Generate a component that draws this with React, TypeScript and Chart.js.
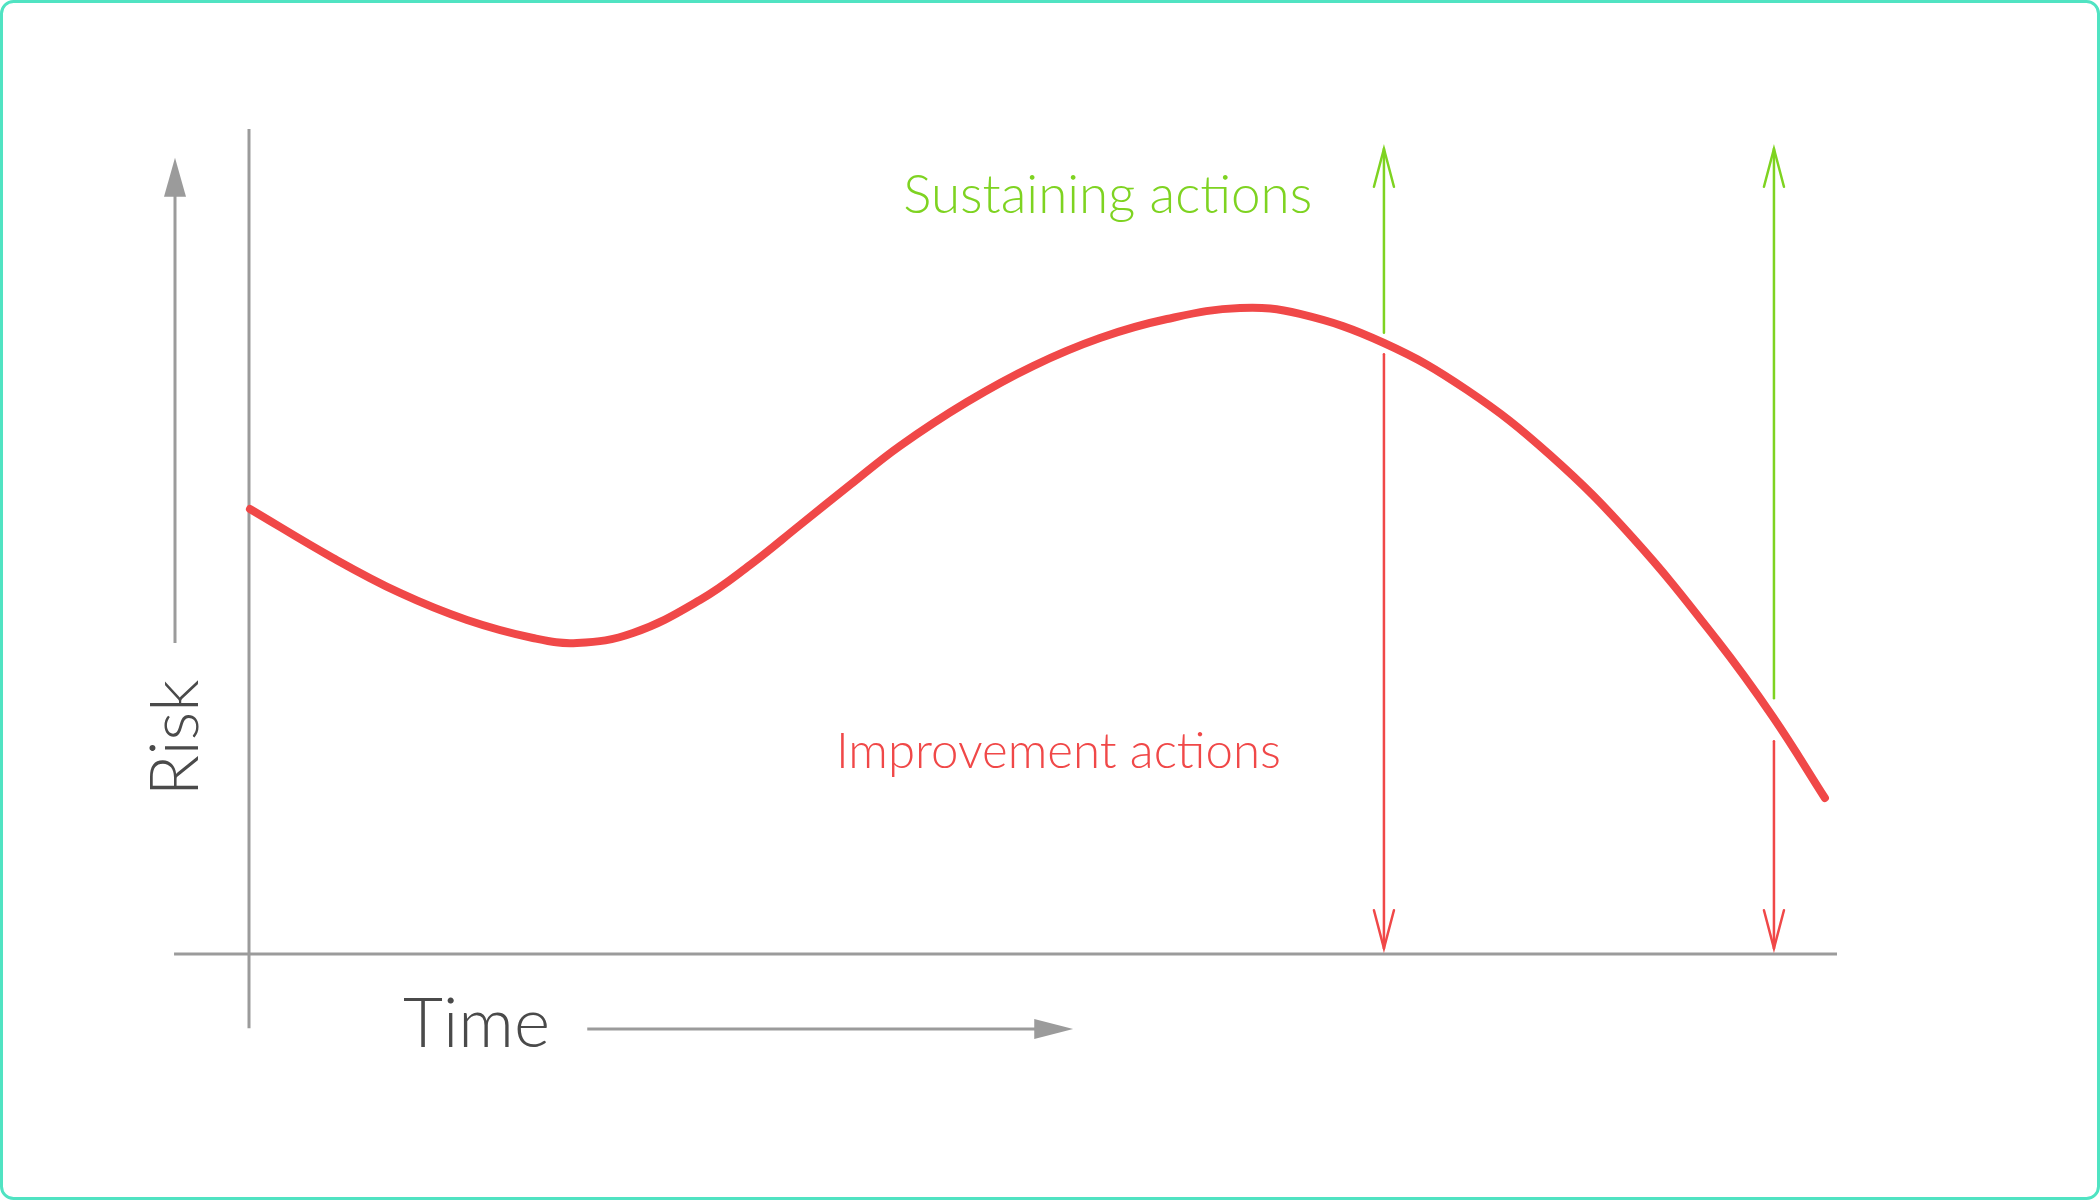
import React, { useEffect, useRef } from "react";
import { Chart, registerables } from "chart.js";
Chart.register(...registerables);

// Risk curve (time in % of horizon, risk in % of axis height)
const curveTime = [0.06, 5.29, 9.51, 13.73, 17.88, 20.65, 24.18, 28.4, 31.55, 34.7, 37.85, 40.99, 45.21, 49.37, 53.59, 57.81, 62.41, 66.18, 71.47, 76.7, 81.93, 87.15, 92.44, 95.97, 99.24];
const curveRisk = [53.94, 48.0, 43.76, 40.48, 38.3, 37.7, 38.91, 42.91, 47.15, 52.0, 56.85, 61.58, 66.91, 71.27, 74.67, 76.97, 78.3, 77.58, 74.06, 68.36, 60.48, 50.42, 38.06, 28.73, 18.91];

// Action arrows
const actionTimes = [71.47, 96.03];
const sustainFrom = [75.3, 31.0];
const improveFrom = [72.7, 25.8];
const arrowTopRisk = 97.6;
const arrowBottomRisk = 0.7;

const labelSustain = "Sustaining actions";
const labelImprove = "Improvement actions";
const labelRisk = "Risk";
const labelTime = "Time";

const X_MIN = -15.68;
const X_MAX = 116.562;
const Y_MIN = -29.818;
const Y_MAX = 115.636;

const GREEN = "#7ED321";
const RED = "#F04848";
const GRAY = "#9B9B9B";
const TEXT = "#4A4A4A";
const TEAL = "#50E3C2";
const FONT = "Lato, 'Open Sans', sans-serif";

function fitFont(ctx: CanvasRenderingContext2D, text: string, width: number) {
  ctx.font = `300 100px ${FONT}`;
  const w = ctx.measureText(text).width;
  const size = (100 * width) / w;
  return `300 ${size.toFixed(2)}px ${FONT}`;
}

const decorPlugin = {
  id: "decor",
  beforeDatasetsDraw(chart: any) {
    const { ctx } = chart;
    const xs = chart.scales.x;
    const ys = chart.scales.y;
    const X = (v: number) => xs.getPixelForValue(v);
    const Y = (v: number) => ys.getPixelForValue(v);
    ctx.save();
    // border
    ctx.strokeStyle = TEAL;
    ctx.lineWidth = 3;
    const w = chart.width, h = chart.height, r = 12;
    ctx.beginPath();
    ctx.roundRect(1.5, 1.5, w - 3, h - 3, r);
    ctx.stroke();

    // axes
    ctx.strokeStyle = GRAY;
    ctx.lineCap = "butt";
    ctx.lineWidth = 3;
    ctx.beginPath();
    ctx.moveTo(X(0), Y(-9.0));
    ctx.lineTo(X(0), Y(100));
    ctx.stroke();
    ctx.beginPath();
    ctx.moveTo(X(-4.72), Y(0));
    ctx.lineTo(X(100), Y(0));
    ctx.stroke();

    // Risk arrow
    const rx = X(-4.66);
    ctx.lineWidth = 3;
    ctx.beginPath();
    ctx.moveTo(rx, Y(37.7));
    ctx.lineTo(rx, Y(92));
    ctx.stroke();
    ctx.fillStyle = GRAY;
    ctx.beginPath();
    ctx.moveTo(rx, Y(96.5));
    ctx.lineTo(rx - 11, Y(91.8));
    ctx.lineTo(rx + 11, Y(91.8));
    ctx.closePath();
    ctx.fill();

    // Time arrow
    const ty = Y(-9.09);
    ctx.beginPath();
    ctx.moveTo(X(21.3), ty);
    ctx.lineTo(X(49.5), ty);
    ctx.stroke();
    ctx.beginPath();
    ctx.moveTo(X(51.9), ty);
    ctx.lineTo(X(49.45), ty - 10);
    ctx.lineTo(X(49.45), ty + 10);
    ctx.closePath();
    ctx.fill();

    // axis titles
    ctx.fillStyle = TEXT;
    ctx.textBaseline = "alphabetic";
    ctx.textAlign = "left";
    ctx.font = fitFont(ctx, labelTime, 147);
    ctx.fillText(labelTime, X(9.7), Y(-11.27));
    ctx.save();
    ctx.translate(X(-3.21), Y(26.2));
    ctx.rotate(-Math.PI / 2);
    ctx.textAlign = "center";
    ctx.font = fitFont(ctx, labelRisk, 117);
    ctx.fillText(labelRisk, 0, 0);
    ctx.restore();
    ctx.restore();
  },
  afterDatasetsDraw(chart: any) {
    const { ctx } = chart;
    const xs = chart.scales.x;
    const ys = chart.scales.y;
    const X = (v: number) => xs.getPixelForValue(v);
    const Y = (v: number) => ys.getPixelForValue(v);
    ctx.save();
    ctx.lineWidth = 2.5;
    ctx.lineCap = "round";
    ctx.lineJoin = "miter";
    actionTimes.forEach((t, i) => {
      const x = X(t);
      // sustaining (up)
      ctx.strokeStyle = GREEN;
      ctx.beginPath();
      ctx.moveTo(x, Y(sustainFrom[i]));
      ctx.lineTo(x, Y(arrowTopRisk));
      ctx.stroke();
      const tipUp = Y(arrowTopRisk);
      ctx.beginPath();
      ctx.moveTo(x - 10, tipUp + 38);
      ctx.lineTo(x, tipUp);
      ctx.lineTo(x + 10, tipUp + 38);
      ctx.stroke();
      // improvement (down)
      ctx.strokeStyle = RED;
      ctx.beginPath();
      ctx.moveTo(x, Y(improveFrom[i]));
      ctx.lineTo(x, Y(arrowBottomRisk));
      ctx.stroke();
      const tipDown = Y(arrowBottomRisk);
      ctx.beginPath();
      ctx.moveTo(x - 10, tipDown - 38);
      ctx.lineTo(x, tipDown);
      ctx.lineTo(x + 10, tipDown - 38);
      ctx.stroke();
    });
    ctx.textAlign = "left";
    ctx.textBaseline = "alphabetic";
    ctx.fillStyle = GREEN;
    ctx.font = fitFont(ctx, labelSustain, 409);
    ctx.fillText(labelSustain, X(41.2), Y(89.8));
    ctx.fillStyle = RED;
    ctx.font = fitFont(ctx, labelImprove, 445);
    ctx.fillText(labelImprove, X(36.96), Y(22.5));
    ctx.restore();
  },
};

export default function App() {
  const ref = useRef<HTMLCanvasElement | null>(null);
  useEffect(() => {
    if (!ref.current) return;
    const chart = new Chart(ref.current, {
      type: "line",
      data: {
        datasets: [
          {
            label: "Risk",
            data: curveTime.map((t, i) => ({ x: t, y: curveRisk[i] })),
            borderColor: RED,
            borderWidth: 8,
            borderCapStyle: "round",
            borderJoinStyle: "round",
            tension: 0.4,
            pointRadius: 0,
            fill: false,
            clip: false as any,
          },
        ],
      },
      options: {
        animation: false,
        responsive: true,
        maintainAspectRatio: false,
        layout: { padding: 0 },
        plugins: { legend: { display: false }, tooltip: { enabled: false } },
        events: [],
        scales: {
          x: { type: "linear", min: X_MIN, max: X_MAX, display: false },
          y: { type: "linear", min: Y_MIN, max: Y_MAX, display: false },
        },
      },
      plugins: [decorPlugin],
    });
    return () => chart.destroy();
  }, []);
  return (
    <div style={{ position: "fixed", left: 0, top: 0, width: 2100, height: 1200, background: "#fff" }}>
      <canvas ref={ref} />
    </div>
  );
}
